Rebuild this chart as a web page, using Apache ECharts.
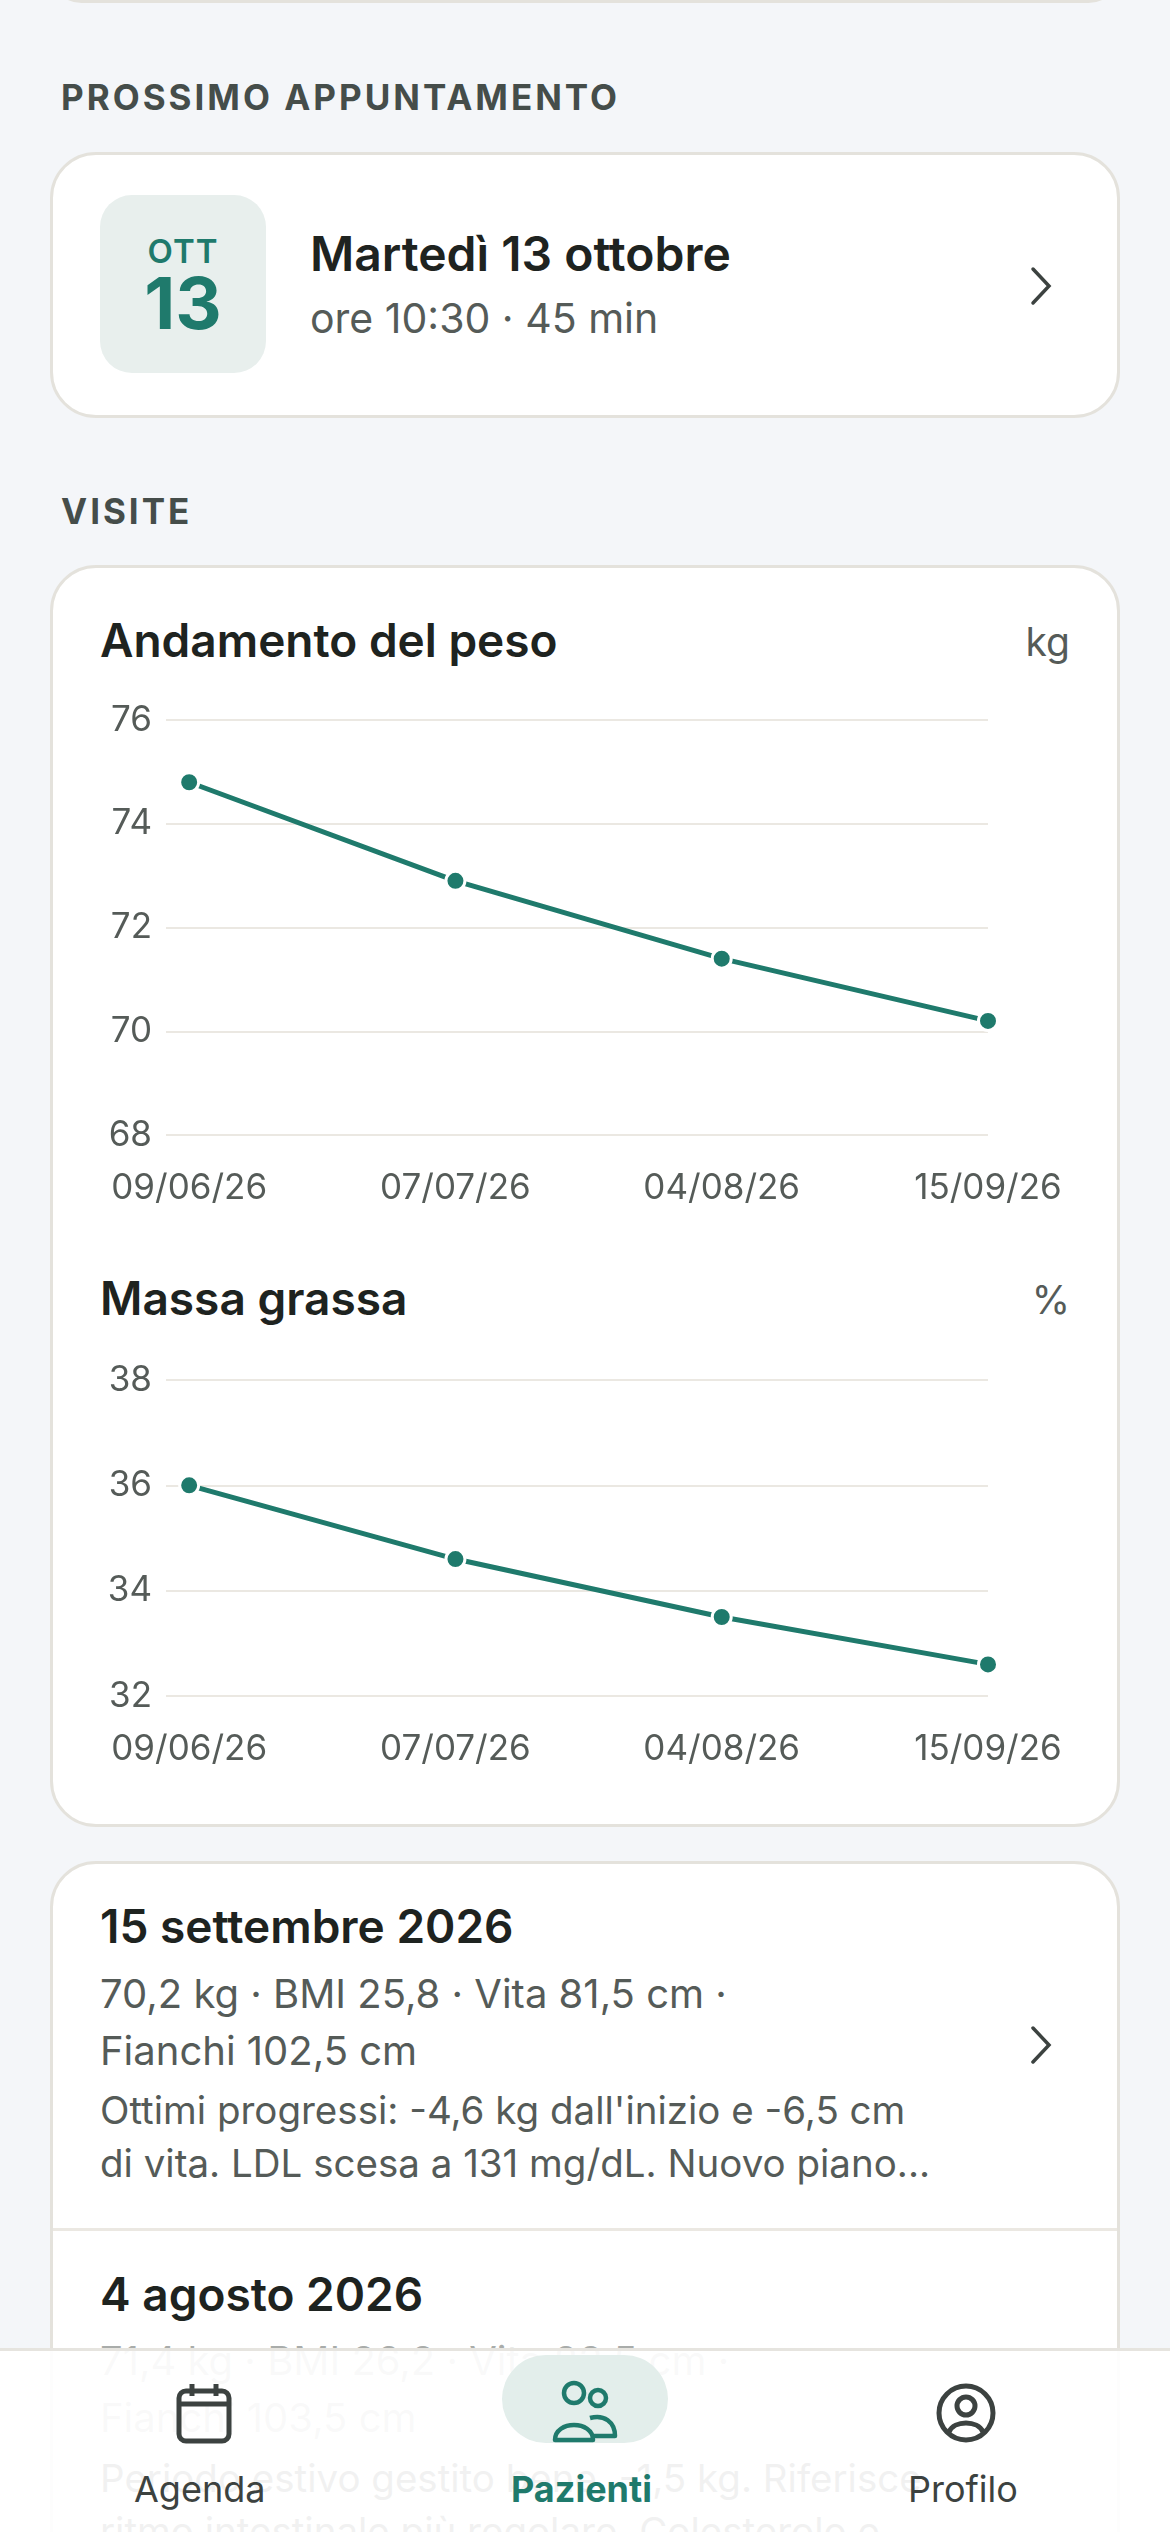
<!DOCTYPE html>
<html><head><meta charset="utf-8">
<script src="https://cdn.jsdelivr.net/npm/echarts@6/dist/echarts.min.js"></script>
<style>
  html,body{margin:0;padding:0;width:1170px;height:2532px;overflow:hidden;background:#f4f6f9;font-family:Inter,"Noto Sans",sans-serif;color:#1e2320}
  .abs{position:absolute}
  .card{position:absolute;background:#fff;border:3px solid #e4e2dc;box-sizing:border-box;border-radius:46px}
  .sec{position:absolute;left:61px;font-size:35px;font-weight:700;letter-spacing:3px;color:#454d4a}
  .chev{position:absolute;width:22px;height:40px}
  .muted{color:#555b58}
</style></head>
<body>
<div class="card" style="left:50px;top:-60px;width:1070px;height:63px"></div>

<div class="sec" style="top:76px">PROSSIMO APPUNTAMENTO</div>
<div class="card" style="left:50px;top:152px;width:1070px;height:266px"></div>
<div class="abs" style="left:100px;top:195px;width:166px;height:178px;background:#e8efed;border-radius:32px;text-align:center;color:#1f7a6c">
  <div style="font-size:33px;font-weight:600;margin-top:36px;letter-spacing:1px">OTT</div>
  <div style="font-size:72px;font-weight:700;line-height:64px">13</div>
</div>
<div class="abs" style="left:310px;top:224px;font-size:48px;font-weight:600">Martedì 13 ottobre</div>
<div class="abs muted" style="left:310px;top:293px;font-size:41px">ore 10:30 · 45 min</div>
<svg class="chev" style="left:1030px;top:266px" viewBox="0 0 22 40"><path d="M3 3 L19 20 L3 37" fill="none" stroke="#3c4240" stroke-width="3.5" stroke-linecap="round"/></svg>

<div class="sec" style="top:490px">VISITE</div>
<div class="card" style="left:50px;top:565px;width:1070px;height:1262px"></div>
<div class="abs" style="left:100px;top:612px;font-size:46px;font-weight:600">Andamento del peso</div>
<div class="abs muted" style="right:100px;top:618px;font-size:39px">kg</div>
<div id="c1" class="abs" style="left:50px;top:680px;width:1070px;height:560px"></div>
<div class="abs" style="left:100px;top:1270px;font-size:46px;font-weight:600">Massa grassa</div>
<div class="abs muted" style="right:100px;top:1276px;font-size:39px">%</div>
<div id="c2" class="abs" style="left:50px;top:1340px;width:1070px;height:450px"></div>

<div class="card" style="left:50px;top:1861px;width:1070px;height:800px;border-radius:46px 46px 0 0"></div>
<div class="abs" style="left:100px;top:1898px;font-size:46px;font-weight:600">15 settembre 2026</div>
<div class="abs muted" style="left:100px;top:1965px;font-size:40px;line-height:57px">70,2 kg · BMI 25,8 · Vita 81,5 cm ·<br>Fianchi 102,5 cm</div>
<div class="abs muted" style="left:100px;top:2084px;font-size:38.5px;line-height:53px">Ottimi progressi: -4,6 kg dall'inizio e -6,5 cm<br>di vita. LDL scesa a 131 mg/dL. Nuovo piano...</div>
<svg class="chev" style="left:1030px;top:2025px" viewBox="0 0 22 40"><path d="M3 3 L19 20 L3 37" fill="none" stroke="#3c4240" stroke-width="3.5" stroke-linecap="round"/></svg>
<div class="abs" style="left:53px;top:2228px;width:1064px;height:3px;background:#ebe8e2"></div>
<div class="abs" style="left:100px;top:2266px;font-size:46px;font-weight:600">4 agosto 2026</div>
<div class="abs muted" style="left:100px;top:2332px;font-size:40px;line-height:57px;opacity:.5">71,4 kg · BMI 26,2 · Vita 83,5 cm ·<br>Fianchi 103,5 cm</div>

<div class="abs" style="left:0;top:2348px;width:1170px;height:184px;background:rgba(255,255,255,.93);border-top:3px solid #e6e4df"></div>
<div class="abs muted" style="left:100px;top:2452px;font-size:38.5px;line-height:53px;opacity:.08">Periodo estivo gestito bene, -1,5 kg. Riferisce<br>ritmo intestinale più regolare. Colesterolo e...</div>
<div class="abs" style="left:502px;top:2355px;width:166px;height:88px;background:#e3eeeb;border-radius:44px"></div>
<svg class="abs" style="left:176px;top:2382px" width="56" height="62" viewBox="0 0 56 62"><rect x="3" y="9" width="50" height="50" rx="7" fill="none" stroke="#3c4240" stroke-width="5"/><line x1="3" y1="22" x2="53" y2="22" stroke="#3c4240" stroke-width="5"/><line x1="16" y1="2" x2="16" y2="14" stroke="#3c4240" stroke-width="5"/><line x1="40" y1="2" x2="40" y2="14" stroke="#3c4240" stroke-width="5"/></svg>
<svg class="abs" style="left:552px;top:2378px" width="66" height="68" viewBox="0 0 66 68"><circle cx="22" cy="15" r="10" fill="none" stroke="#1f7a6c" stroke-width="4.5"/><circle cx="46" cy="20" r="8" fill="none" stroke="#1f7a6c" stroke-width="4.5"/><path d="M3 62 C3 42 41 42 41 62 Z" fill="none" stroke="#1f7a6c" stroke-width="4.5" stroke-linejoin="round"/><path d="M38 40 C52 36 63 44 63 58 L42 58" fill="none" stroke="#1f7a6c" stroke-width="4.5" stroke-linejoin="round"/></svg>
<svg class="abs" style="left:936px;top:2382px" width="60" height="62" viewBox="0 0 60 62"><circle cx="30" cy="31" r="27" fill="none" stroke="#3c4240" stroke-width="5"/><circle cx="30" cy="24" r="9" fill="none" stroke="#3c4240" stroke-width="5"/><path d="M13 50 C18 38 42 38 47 50" fill="none" stroke="#3c4240" stroke-width="5"/></svg>
<div class="abs" style="left:134px;top:2467px;font-size:36px;color:#3c4240">Agenda</div>
<div class="abs" style="left:511px;top:2467px;font-size:36px;font-weight:700;color:#1f7a6c">Pazienti</div>
<div class="abs" style="left:908px;top:2467px;font-size:36px;color:#3c4240">Profilo</div>

<script>
// dati
const dates = ['09/06/26', '07/07/26', '04/08/26', '15/09/26'];
const peso = [74.8, 72.9, 71.4, 70.2];
const pesoTicks = [68, 70, 72, 74, 76];
const grassa = [36.0, 34.6, 33.5, 32.6];
const grassaTicks = [32, 34, 36, 38];

const green = '#1f7a6c';

function buildOption(values, ticks, top, height) {
  return {
    animation: false,
    grid: { left: 116, right: 132, top: top, height: height },
    xAxis: {
      type: 'value', min: -0.087, max: 3,
      axisLine: { show: false }, axisTick: { show: false }, splitLine: { show: false },
      axisLabel: {
        customValues: [0, 1, 2, 3], margin: 36, color: '#555b58', fontSize: 35, fontFamily: 'Inter',
        formatter: v => dates[Math.round(v)]
      }
    },
    yAxis: {
      type: 'value', min: ticks[0], max: ticks[ticks.length - 1], interval: 2,
      axisLine: { show: false }, axisTick: { show: false },
      axisLabel: { margin: 14, color: '#555b58', fontSize: 35, fontFamily: 'Inter' },
      splitLine: { lineStyle: { color: '#ebe8e2', width: 2 } }
    },
    series: [{
      type: 'line',
      data: values.map((v, i) => [i, v]),
      lineStyle: { color: green, width: 5 },
      symbol: 'circle', symbolSize: 19,
      itemStyle: { color: green, borderColor: '#fff', borderWidth: 3 }
    }]
  };
}

echarts.init(document.getElementById('c1')).setOption(buildOption(peso, pesoTicks, 40, 415));
echarts.init(document.getElementById('c2')).setOption(buildOption(grassa, grassaTicks, 40, 316));
</script>
</body></html>
